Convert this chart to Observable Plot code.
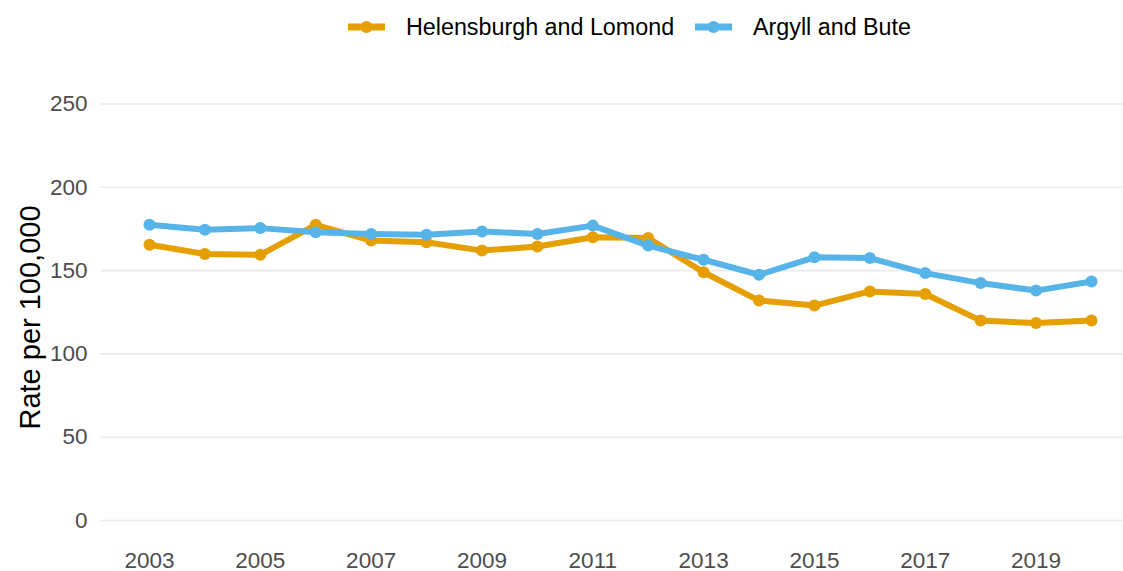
<!DOCTYPE html>
<html>
<head>
<meta charset="utf-8">
<script src="https://cdn.jsdelivr.net/npm/d3@7"></script>
<script src="https://cdn.jsdelivr.net/npm/@observablehq/plot@0.6"></script>
<style>
  body { margin: 0; background: #fff; font-family: "Liberation Sans", Arial, sans-serif; }
  #legend { position: relative; height: 50px; width: 1123px; }
  .item { position: absolute; top: 0; height: 50px; display: flex; align-items: center; font-size: 23.3px; color: #000; }
  .item svg { margin-right: 21px; }
</style>
</head>
<body>
<div id="legend"></div>
<div id="chart"></div>
<script>
const years = [2003, 2004, 2005, 2006, 2007, 2008, 2009, 2010, 2011, 2012, 2013, 2014, 2015, 2016, 2017, 2018, 2019, 2020];
const helensburgh = [165.5, 160, 159.5, 177.5, 168, 167, 162, 164.5, 170, 169.5, 149, 132, 129, 137.5, 136, 120, 118.5, 120];
const argyll = [177.5, 174.5, 175.5, 173, 172, 171.5, 173.5, 172, 177, 165, 156.5, 147.5, 158, 157.5, 148.5, 142.5, 138, 143.5];
const seriesNames = ["Helensburgh and Lomond", "Argyll and Bute"];
const seriesColors = ["#E69F00", "#56B4E9"];
const yTicks = [0, 50, 100, 150, 200, 250];
const xTicks = [2003, 2005, 2007, 2009, 2011, 2013, 2015, 2017, 2019];
const yLabel = "Rate per 100,000";

const data = [];
years.forEach((y, i) => {
  data.push({year: y, value: helensburgh[i], series: seriesNames[0]});
  data.push({year: y, value: argyll[i], series: seriesNames[1]});
});

// legend
const legend = document.getElementById("legend");
const lefts = [348, 695];
seriesNames.forEach((name, i) => {
  const d = document.createElement("div");
  d.className = "item";
  d.style.left = lefts[i] + "px";
  d.style.top = "2px";
  d.innerHTML = `<svg width="37" height="14"><line x1="0" x2="37" y1="7" y2="7" stroke="${seriesColors[i]}" stroke-width="7"/><circle cx="18.5" cy="7" r="6" fill="${seriesColors[i]}"/></svg><span>${name}</span>`;
  legend.appendChild(d);
});

const chart = Plot.plot({
  width: 1123,
  height: 521,
  marginLeft: 100,
  marginRight: 0,
  marginTop: 33,
  marginBottom: 30,
  style: {fontFamily: "'Liberation Sans', Arial, sans-serif", background: "#fff", overflow: "visible"},
  x: {domain: [2003, 2020], range: [149, 1091]},
  y: {domain: [0, 250], range: [470, 53.5]},
  color: {domain: seriesNames, range: seriesColors},
  marks: [
    Plot.ruleY(yTicks, {stroke: "#EBEBEB", strokeWidth: 1.6}),
    Plot.axisY(yTicks, {tickSize: 0, tickPadding: 13, fontSize: 22.5, fill: "#4D4D4D", label: null}),
    Plot.axisX(xTicks, {tickSize: 0, tickPadding: 10.5, fontSize: 22.5, fill: "#4D4D4D", label: null, tickFormat: d => String(d)}),
    Plot.text([yLabel], {frameAnchor: "left", dx: -70, dy: 5, rotate: -90, fontSize: 29, fill: "#000", textAnchor: "middle"}),
    Plot.line(data, {x: "year", y: "value", z: "series", stroke: "series", strokeWidth: 6, strokeLinejoin: "round"}),
    Plot.dot(data, {x: "year", y: "value", fill: "series", r: 6, stroke: "none"})
  ]
});
document.getElementById("chart").appendChild(chart);
</script>
</body>
</html>
